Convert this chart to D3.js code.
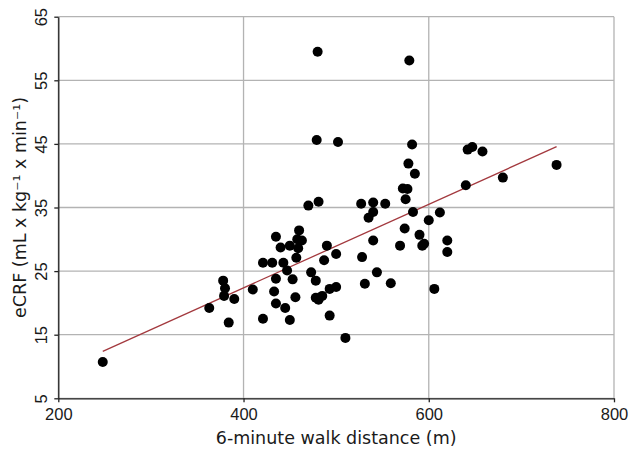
<!DOCTYPE html>
<html lang="en">
<head>
<meta charset="UTF-8">
<title>eCRF vs 6MWD</title>
<style>
  body { margin: 0; background: #fff; }
  svg { font-family: "DejaVu Sans", sans-serif; }
  .grid line { stroke: #b3b3b3; stroke-width: 1.3; }
  .axis path, .axis line { stroke: #222; stroke-width: 1.3; }
  .axis text { fill: #1a1a1a; font-size: 16.5px; }
</style>
</head>
<body>
<svg></svg>
<script src="https://d3js.org/d3.v7.min.js"></script>
<script>
// 6-minute walk distance (m)
const walk = [
  248, 363, 378, 380, 379, 390, 384, 410, 421, 431, 421, 435, 440, 443, 435, 433,
  435, 445, 447, 450, 450, 453, 456, 457, 459, 460, 458, 463, 473, 478, 478, 481,
  574, 590, 595, 593, 620, 620, 569, 540, 528, 490, 500, 487, 544, 531, 559, 606,
  493, 500, 485, 493, 510,
  480, 579, 479, 502, 582, 578, 585, 572, 577, 575, 481, 470, 527, 540, 553, 540,
  535, 583, 600, 612, 642, 647, 658, 640, 680, 738
];
// estimated cardiorespiratory fitness (mL x kg-1 x min-1)
const ecrf = [
  10.7, 19.2, 23.5, 22.3, 21.1, 20.6, 16.9, 22.1, 26.3, 26.3, 17.5, 30.4, 28.7, 26.3, 23.8, 21.8,
  19.9, 19.2, 25.1, 17.3, 29.0, 23.7, 20.9, 27.1, 28.6, 31.4, 30.0, 29.8, 24.8, 23.5, 20.8, 20.5,
  31.7, 30.7, 29.3, 29.0, 29.8, 28.0, 29.0, 29.8, 27.2, 29.0, 27.7, 26.7, 24.8, 23.0, 23.1, 22.2,
  22.2, 22.5, 21.1, 18.0, 14.5,
  59.5, 58.1, 45.6, 45.3, 44.9, 41.9, 40.3, 38.0, 37.9, 36.3, 35.9, 35.3, 35.6, 35.8, 35.6, 34.3,
  33.4, 34.3, 33.0, 34.2, 44.1, 44.5, 43.8, 38.5, 39.7, 41.7
];
const xTicks = [200, 400, 600, 800];
const yTicks = [5, 15, 25, 35, 45, 55, 65];
// fitted line: ecrf = intercept + slope * walk
const intercept = -3.9;
const slope = 0.06567;

const width = 630, height = 450;
const margin = { top: 16.7, right: 16, bottom: 51.7, left: 58.3 };
const w = width - margin.left - margin.right;
const h = height - margin.top - margin.bottom;

const svg = d3.select("svg").attr("width", width).attr("height", height);
const g = svg.append("g").attr("transform", `translate(${margin.left},${margin.top})`);

const x = d3.scaleLinear().domain([200, 800]).range([0, w]);
const y = d3.scaleLinear().domain([5, 65]).range([h, 0]);

// grid
const grid = g.append("g").attr("class", "grid");
grid.selectAll(".gx").data(xTicks).enter().append("line")
  .attr("x1", d => x(d)).attr("x2", d => x(d)).attr("y1", 0).attr("y2", h);
grid.selectAll(".gy").data(yTicks).enter().append("line")
  .attr("x1", 0).attr("x2", w).attr("y1", d => y(d)).attr("y2", d => y(d));

// axes
g.append("g").attr("class", "axis")
  .attr("transform", `translate(0,${h})`)
  .call(d3.axisBottom(x).tickValues(xTicks).tickSize(4).tickPadding(5).tickSizeOuter(0))
  .selectAll("text").attr("dy", "0.8em");

const yAx = g.append("g").attr("class", "axis")
  .call(d3.axisLeft(y).tickValues(yTicks).tickSize(4).tickSizeOuter(0));
yAx.selectAll("text")
  .attr("x", null).attr("dy", null)
  .attr("text-anchor", "middle")
  .attr("transform", "translate(-11,0) rotate(-90)");

// regression line
const xs = d3.extent(walk);
g.append("path")
  .attr("d", d3.line()(xs.map(v => [x(v), y(intercept + slope * v)])))
  .attr("fill", "none")
  .attr("stroke", "#a3393e")
  .attr("stroke-width", 1.3);

// points
g.selectAll("circle").data(walk).enter().append("circle")
  .attr("cx", d => x(d))
  .attr("cy", (d, i) => y(ecrf[i]))
  .attr("r", 5)
  .attr("fill", "#000");

// labels
svg.append("text")
  .attr("x", margin.left + w / 2).attr("y", 444)
  .attr("text-anchor", "middle")
  .attr("font-size", 17.5).attr("fill", "#1a1a1a")
  .text("6-minute walk distance (m)");

svg.append("text")
  .attr("transform", `translate(26,${margin.top + h / 2}) rotate(-90)`)
  .attr("text-anchor", "middle")
  .attr("font-size", 17.5).attr("fill", "#1a1a1a")
  .text("eCRF (mL x kg\u207B\u00B9 x min\u207B\u00B9)");
</script>
</body>
</html>
